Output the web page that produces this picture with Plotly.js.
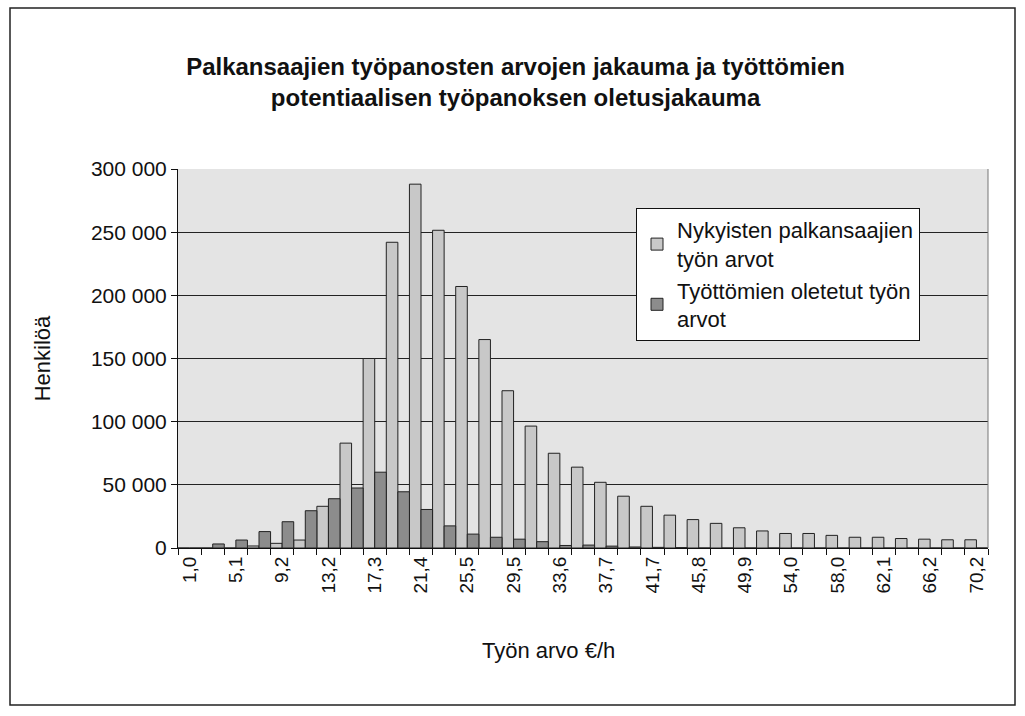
<!DOCTYPE html>
<html>
<head>
<meta charset="utf-8">
<script src="https://cdn.plot.ly/plotly-3.0.1.min.js"></script>
<style>
html,body{margin:0;padding:0;background:#fff;}
#chart{width:1025px;height:716px;}
</style>
</head>
<body>
<div id="chart"></div>
<script>
// Category labels (€/h)
const categories = ["1,0","3,1","5,1","7,1","9,2","11,2","13,2","15,3","17,3","19,3",
  "21,4","23,4","25,5","27,5","29,5","31,6","33,6","35,6","37,7","39,7",
  "41,7","43,8","45,8","47,8","49,9","51,9","54,0","56,0","58,0","60,1",
  "62,1","64,1","66,2","68,2","70,2"];

// Nykyisten palkansaajien työn arvot
const employed = [0,0,0,1600,3700,6300,33000,83000,150000,242000,
  288000,251500,207000,165000,124500,96500,75000,64000,52000,41000,
  33000,26000,22500,19500,16000,13500,11500,11500,10000,8500,
  8500,7500,7000,6500,6500];

// Työttömien oletetut työn arvot
const unemployed = [0,3200,6300,13000,20800,29500,39000,47500,60000,44500,
  30500,17500,11000,8500,7000,5000,2000,2300,1500,800,
  500,300,0,0,0,0,0,0,0,0,
  0,0,0,0,0];

const seriesNames = ["Nykyisten palkansaajien<br>työn arvot", "Työttömien oletetut työn<br>arvot"];
const yTicks = [0,50000,100000,150000,200000,250000,300000];
const xTitle = "Työn arvo €/h";
const yTitle = "Henkilöä";
const chartTitle = "Palkansaajien työpanosten arvojen jakauma ja työttömien<br>potentiaalisen työpanoksen oletusjakauma";

const tickText = categories.map((c,i) => i % 2 === 0 ? c : "");

const FONT = "Liberation Sans, Arial, sans-serif";

const traces = [
  {type:"bar", name:seriesNames[0], x:categories, y:employed,
   marker:{color:"#c8c8c8", line:{color:"#222", width:1}}},
  {type:"bar", name:seriesNames[1], x:categories, y:unemployed,
   marker:{color:"#8c8c8c", line:{color:"#222", width:1}}}
];

const L = 178, R = 988, T = 169, B = 548, W = 1025, H = 716;
const px = v => (v - L) / (R - L);
const py = v => (B - v) / (B - T);

const layout = {
  width:W, height:H,
  margin:{l:L, r:W-R, t:T, b:H-B, pad:0},
  paper_bgcolor:"#ffffff",
  plot_bgcolor:"#e4e4e4",
  separators:", ",
  barmode:"group", bargap:0, bargroupgap:0,
  font:{family:FONT, color:"#111", size:19},
  title:{text:chartTitle,
    font:{family:FONT, size:24, color:"#111", weight:"bold"},
    x:0.503, xanchor:"center", xref:"container", y:0.895, yanchor:"middle", yref:"container"},
  xaxis:{type:"category", categoryorder:"array", categoryarray:categories,
    tickmode:"array", tickvals:categories, ticktext:tickText,
    tickson:"boundaries", ticks:"outside", ticklen:6, tickcolor:"#111", tickwidth:1,
    tickangle:-90, tickfont:{family:FONT, size:19, color:"#111"},
    showline:true, linecolor:"#111", linewidth:1, showgrid:false,
    fixedrange:true},
  yaxis:{range:[0,300000], tickmode:"array", tickvals:yTicks, tickformat:",d",
    ticks:"outside", ticklen:6, tickcolor:"#111",
    tickfont:{family:FONT, size:21, color:"#111"},
    showline:true, linecolor:"#111", linewidth:1,
    showgrid:true, gridcolor:"#222", gridwidth:1, zeroline:false,
    title:{text:yTitle, font:{family:FONT, size:22, color:"#111"}, standoff:34},
    fixedrange:true},
  legend:{x:px(636), y:py(208), xanchor:"left", yanchor:"top",
    bgcolor:"#ffffff", bordercolor:"#111", borderwidth:1,
    font:{family:FONT, size:22, color:"#111"}, tracegroupgap:10,
    itemwidth:30},
  showlegend:true,
  annotations:[
    {text:xTitle, xref:"paper", yref:"paper", x:px(548), y:py(650),
     xanchor:"center", yanchor:"middle", showarrow:false,
     font:{family:FONT, size:22, color:"#111"}}
  ],
  shapes:[
    {type:"line", xref:"paper", yref:"paper", x0:1, x1:1, y0:0, y1:1,
     line:{color:"#777", width:1}},
    {type:"rect", xref:"paper", yref:"paper",
     x0:px(10), x1:px(1015), y0:py(705), y1:py(8),
     line:{color:"#222", width:1.5}, fillcolor:"rgba(0,0,0,0)", layer:"below"}
  ]
};

Plotly.newPlot("chart", traces, layout, {displayModeBar:false, staticPlot:true});
</script>
</body>
</html>
